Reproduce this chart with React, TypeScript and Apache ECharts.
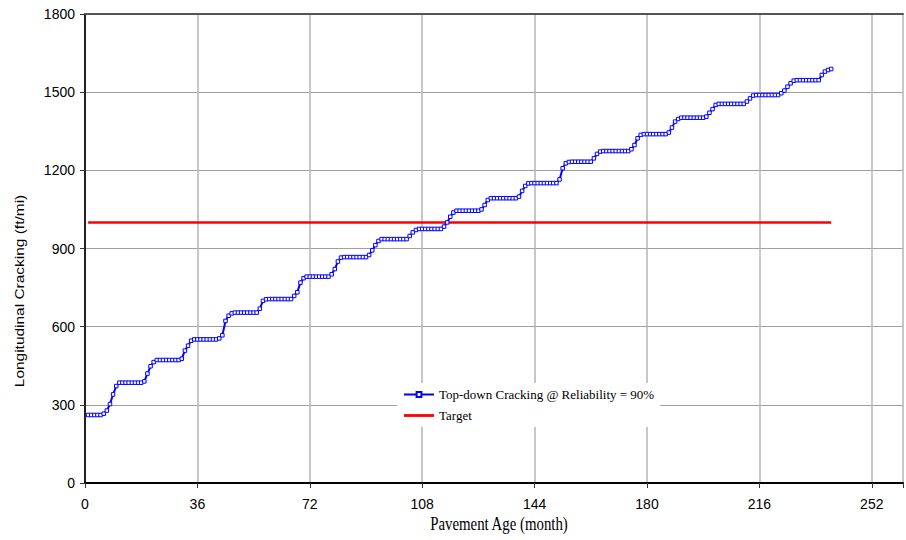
import React, { useEffect, useRef } from "react";
import * as echarts from "echarts";

// Longitudinal (top-down) cracking, ft/mi, for pavement age months 1..239
const crackValues: number[] = [
  261, 261, 261, 261, 261,
  266, 278, 303, 340, 372,
  385, 385, 385, 385, 385, 385, 385, 385,
  390, 420, 448, 464,
  472, 472, 472, 472, 472, 472, 472, 472,
  477, 508, 527, 546, 551,
  551, 551, 551, 551, 551, 551, 551,
  555, 567, 622, 642, 651,
  654, 654, 654, 654, 654, 654, 654, 654,
  669, 699, 705,
  706, 706, 706, 706, 706, 706, 706, 706,
  718, 732, 769, 786, 792,
  792, 792, 792, 792, 792, 792, 792,
  801, 821, 850, 865, 867,
  867, 867, 867, 867, 867, 867, 867,
  875, 893, 913, 929, 936,
  936, 936, 936, 936, 936, 936, 936, 936,
  948, 962, 971, 975,
  975, 975, 975, 975, 975, 975, 975,
  984, 1000, 1022, 1038, 1045,
  1045, 1045, 1045, 1045, 1045, 1045, 1045,
  1050, 1067, 1086, 1093,
  1093, 1093, 1093, 1093, 1093, 1093, 1093, 1093,
  1099, 1121, 1140, 1150,
  1151, 1151, 1151, 1151, 1151, 1151, 1151, 1151, 1151,
  1165, 1208, 1227, 1232,
  1233, 1233, 1233, 1233, 1233, 1233, 1233,
  1246, 1263, 1272, 1274,
  1274, 1274, 1274, 1274, 1274, 1274, 1274, 1274,
  1281, 1297, 1323, 1336, 1339,
  1339, 1339, 1339, 1339, 1339, 1339, 1339,
  1345, 1364, 1387, 1397, 1402,
  1402, 1402, 1402, 1402, 1402, 1402, 1402,
  1406, 1421, 1435, 1451, 1455,
  1455, 1455, 1455, 1455, 1455, 1455, 1455, 1455,
  1464, 1476, 1487, 1489,
  1489, 1489, 1489, 1489, 1489, 1489, 1489,
  1496, 1506, 1521, 1534, 1544,
  1546, 1546, 1546, 1546, 1546, 1546, 1546, 1546,
  1566, 1579, 1585, 1589,
];
const firstMonth = 1;

const targetMonths: number[] = [1, 239];
const targetValue = 1000;

const xMin = 0;
const xMax = 262; // axis runs on to the picture's right edge
const xInterval = 36;
const xLastLabel = 252;
const yMin = 0;
const yMax = 1800;
const yInterval = 300;

const seriesNames = ["Top-down Cracking @ Reliability = 90%", "Target"];
const xTitle = "Pavement Age (month)";
const yTitle = "Longitudinal Cracking (ft/mi)";

export default function App() {
  const ref = useRef<HTMLDivElement>(null);

  useEffect(() => {
    if (!ref.current) return;
    const chart = echarts.init(ref.current, null, { renderer: "svg" });

    const tickFont = { fontFamily: "Liberation Sans", fontSize: 14 };

    const crackData = crackValues.map((v, i) => [firstMonth + i, v]);
    const targetData = targetMonths.map((m) => [m, targetValue]);

    const isXTick = (v: number) => v <= xLastLabel && v % xInterval === 0;

    const option: any = {
      animation: false,
      backgroundColor: "#ffffff",
      grid: { left: 85, top: 14, right: 0, height: 469, containLabel: false },
      xAxis: [
        {
          type: "value",
          position: "bottom",
          min: xMin,
          max: xMax,
          interval: xInterval,
          axisLine: { show: true, onZero: false, lineStyle: { color: "#000", width: 2 } },
          axisTick: { show: true, length: 5, lineStyle: { color: "#333", width: 1 } },
          axisLabel: {
            show: true,
            margin: 14,
            color: "#000",
            ...tickFont,
            formatter: (v: number) => (isXTick(v) ? String(v) : ""),
          },
          splitLine: { show: true, lineStyle: { color: "#b4b4b4", width: 1.5 } },
        },
        {
          type: "value",
          position: "top",
          min: xMin,
          max: xMax,
          interval: xInterval,
          axisLine: { show: true, onZero: false, lineStyle: { color: "#555", width: 2 } },
          axisTick: { show: false },
          axisLabel: { show: false },
          splitLine: { show: false },
        },
      ],
      yAxis: {
        type: "value",
        min: yMin,
        max: yMax,
        interval: yInterval,
        axisLine: { show: true, lineStyle: { color: "#222", width: 2 } },
        axisTick: { show: true, length: 5, lineStyle: { color: "#333", width: 1 } },
        axisLabel: {
          show: true,
          margin: 10,
          color: "#000",
          ...tickFont,
          formatter: (v: number) => String(v),
        },
        splitLine: { show: true, lineStyle: { color: "#a0a0a0", width: 1 } },
      },
      legend: {
        orient: "vertical",
        left: 397,
        top: 383,
        padding: [5, 6, 5, 6],
        backgroundColor: "#ffffff",
        itemWidth: 30,
        itemHeight: 6,
        itemGap: 8,
        textStyle: { fontFamily: "Liberation Serif", fontSize: 13, color: "#000" },
        data: [
          { name: seriesNames[0] },
          { name: seriesNames[1], icon: "path://M0,0H32V3H0Z" },
        ],
      },
      graphic: [
        {
          type: "text",
          x: 20,
          y: 291,
          rotation: Math.PI / 2,
          scaleX: 1.29,
          style: {
            text: yTitle,
            fontFamily: "Liberation Sans",
            fontSize: 12,
            fill: "#000",
            align: "center",
            verticalAlign: "middle",
          },
        },
        {
          type: "text",
          x: 499,
          y: 524,
          scaleX: 1.06,
          scaleY: 1.3,
          style: {
            text: xTitle,
            fontFamily: "Liberation Serif",
            fontSize: 14,
            fill: "#000",
            align: "center",
            verticalAlign: "middle",
          },
        },
      ],
      series: [
        {
          name: seriesNames[1],
          type: "line",
          xAxisIndex: 0,
          data: targetData,
          symbol: "none",
          lineStyle: { color: "#ff0000", width: 2.5 },
          itemStyle: { color: "#ff0000" },
          z: 2,
        },
        {
          name: seriesNames[0],
          type: "line",
          xAxisIndex: 0,
          data: crackData,
          symbol: "rect",
          symbolSize: 3.5,
          showAllSymbol: true,
          lineStyle: { color: "#0000ff", width: 2 },
          itemStyle: { color: "#ffffff", borderColor: "#0000ff", borderWidth: 1 },
          z: 3,
        },
      ],
    };

    chart.setOption(option);
    return () => chart.dispose();
  }, []);

  return (
    <div
      ref={ref}
      style={{ position: "fixed", left: 0, top: 0, width: 906, height: 540, background: "#fff" }}
    />
  );
}
